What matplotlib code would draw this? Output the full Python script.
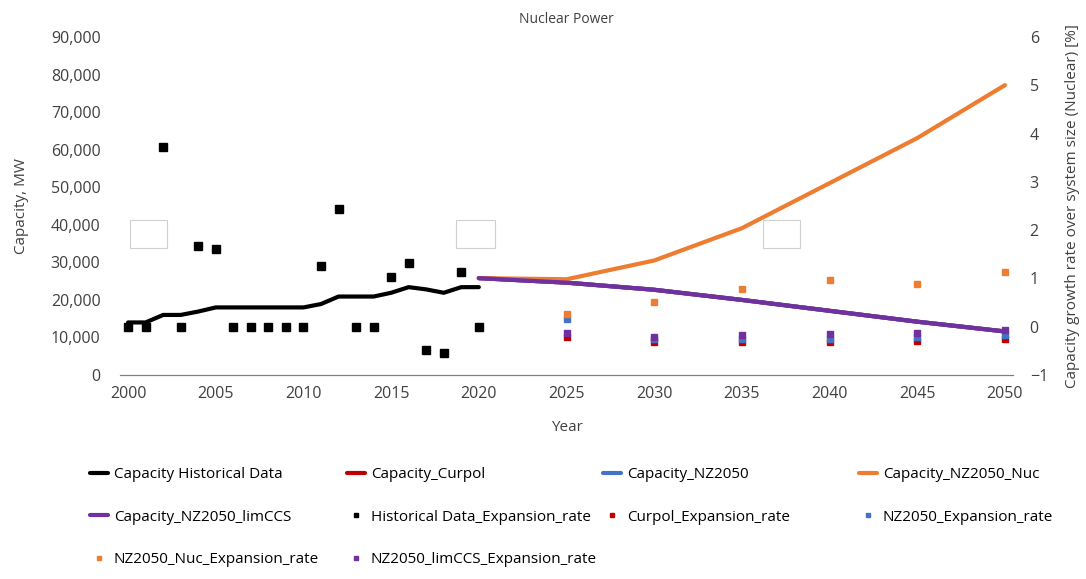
import matplotlib.pyplot as plt
from matplotlib.patches import Rectangle

plt.rcParams["font.family"] = ["Open Sans", "DejaVu Sans"]

# historical data
hist_years = list(range(2000, 2021))
hist_capacity = [14000, 14000, 16000, 16000, 16900, 18000, 18000, 18000, 18000, 18000, 18000,
                 18900, 20900, 20900, 20900, 21900, 23400, 22800, 21900, 23400, 23400]
hist_rate = [0, 0, 3.72, 0, 1.68, 1.61, 0, 0, 0, 0, 0,
             1.26, 2.44, 0, 0, 1.03, 1.32, -0.49, -0.55, 1.13, 0]

# scenarios
proj_years = [2020, 2025, 2030, 2035, 2040, 2045, 2050]
cap_curpol = [25800, 24600, 22700, 20000, 17100, 14200, 11600]
cap_nz2050 = [25800, 24600, 22700, 20000, 17100, 14200, 11600]
cap_nuc = [25800, 25500, 30500, 39100, 51100, 63100, 77200]
cap_limccs = [25800, 24600, 22700, 20000, 17100, 14200, 11600]

rate_years = [2025, 2030, 2035, 2040, 2045, 2050]
rate_curpol = [-0.21, -0.31, -0.31, -0.31, -0.29, -0.26]
rate_nz2050 = [0.15, -0.25, -0.26, -0.25, -0.22, -0.17]
rate_nuc = [0.26, 0.52, 0.78, 0.96, 0.88, 1.13]
rate_limccs = [-0.14, -0.21, -0.18, -0.15, -0.14, -0.07]

RED, BLUE, ORANGE, PURPLE = "#C00000", "#4472C4", "#ED7D31", "#7030A0"
TXT = "#404040"

fig = plt.figure(figsize=(10.86, 5.79), dpi=100)
ax = fig.add_axes([0.1105, 0.3523, 0.8223, 0.5837])
ax2 = ax.twinx()

lw = 3.0
l_hist, = ax.plot(hist_years, hist_capacity, color="black", lw=lw, solid_capstyle="round",
                  label="Capacity Historical Data")
l_cur, = ax.plot(proj_years, cap_curpol, color=RED, lw=lw, solid_capstyle="round", label="Capacity_Curpol")
l_nz, = ax.plot(proj_years, cap_nz2050, color=BLUE, lw=lw, solid_capstyle="round", label="Capacity_NZ2050")
l_nuc, = ax.plot(proj_years, cap_nuc, color=ORANGE, lw=lw, solid_capstyle="round", label="Capacity_NZ2050_Nuc")
l_lim, = ax.plot(proj_years, cap_limccs, color=PURPLE, lw=lw, solid_capstyle="round",
                 label="Capacity_NZ2050_limCCS")

s_hist, = ax2.plot(hist_years, hist_rate, "s", color="black", ms=5.5, label="Historical Data_Expansion_rate")
s_cur, = ax2.plot(rate_years, rate_curpol, "s", color=RED, ms=5, label="Curpol_Expansion_rate")
s_nz, = ax2.plot(rate_years, rate_nz2050, "s", color=BLUE, ms=5, label="NZ2050_Expansion_rate")
s_nuc, = ax2.plot(rate_years, rate_nuc, "s", color=ORANGE, ms=5, label="NZ2050_Nuc_Expansion_rate")
s_lim, = ax2.plot(rate_years, rate_limccs, "s", color=PURPLE, ms=5, label="NZ2050_limCCS_Expansion_rate")

# empty data-label boxes
for x0, x1 in [(2000.1, 2002.2), (2018.7, 2020.9), (2036.2, 2038.3)]:
    ax.add_patch(Rectangle((x0, 33700), x1 - x0, 7500, facecolor="white",
                           edgecolor="#D0D0D0", lw=0.8, zorder=5))

ax.set_xlim(1999.54, 2050.46)
ax.set_ylim(0, 90000)
ax2.set_ylim(-1, 6)
ax.set_xticks(range(2000, 2051, 5))
ax.set_yticks(range(0, 90001, 10000))
ax.set_yticklabels([f"{v:,}" for v in range(0, 90001, 10000)])
ax2.set_yticks(range(-1, 7))

for a in (ax, ax2):
    for s in ("top", "left", "right"):
        a.spines[s].set_visible(False)
    a.spines["bottom"].set_color("#7F7F7F")
    a.tick_params(length=0, labelsize=11.5, colors=TXT)
ax.tick_params(axis="y", pad=14)
ax.tick_params(axis="x", pad=8)
ax2.tick_params(axis="y", pad=12)

ax.set_title("Nuclear Power", fontsize=10, color=TXT, pad=10)
ax.set_xlabel("Year", fontsize=11, color=TXT, labelpad=13)
ax.set_ylabel("Capacity, MW", fontsize=11, color=TXT, labelpad=16)
ax2.set_ylabel("Capacity growth rate over system size (Nuclear) [%]", fontsize=11, color=TXT, labelpad=12)

# legend, 4 columns like excel
cols = [[l_hist, l_lim, s_nuc], [l_cur, s_hist, s_lim], [l_nz, s_cur], [l_nuc, s_nz]]
col_x = [0.0829, 0.3195, 0.5552, 0.791]
for handles, x in zip(cols, col_x):
    leg = fig.legend(handles=handles, loc="upper left", bbox_to_anchor=(x, 0.1934), frameon=False,
                     fontsize=11, handlelength=1.15, handletextpad=0.4, labelspacing=1.8,
                     markerscale=0.6, borderaxespad=0, borderpad=0)
    for t in leg.get_texts():
        t.set_color("black")

fig.savefig("out.png", dpi=100)
